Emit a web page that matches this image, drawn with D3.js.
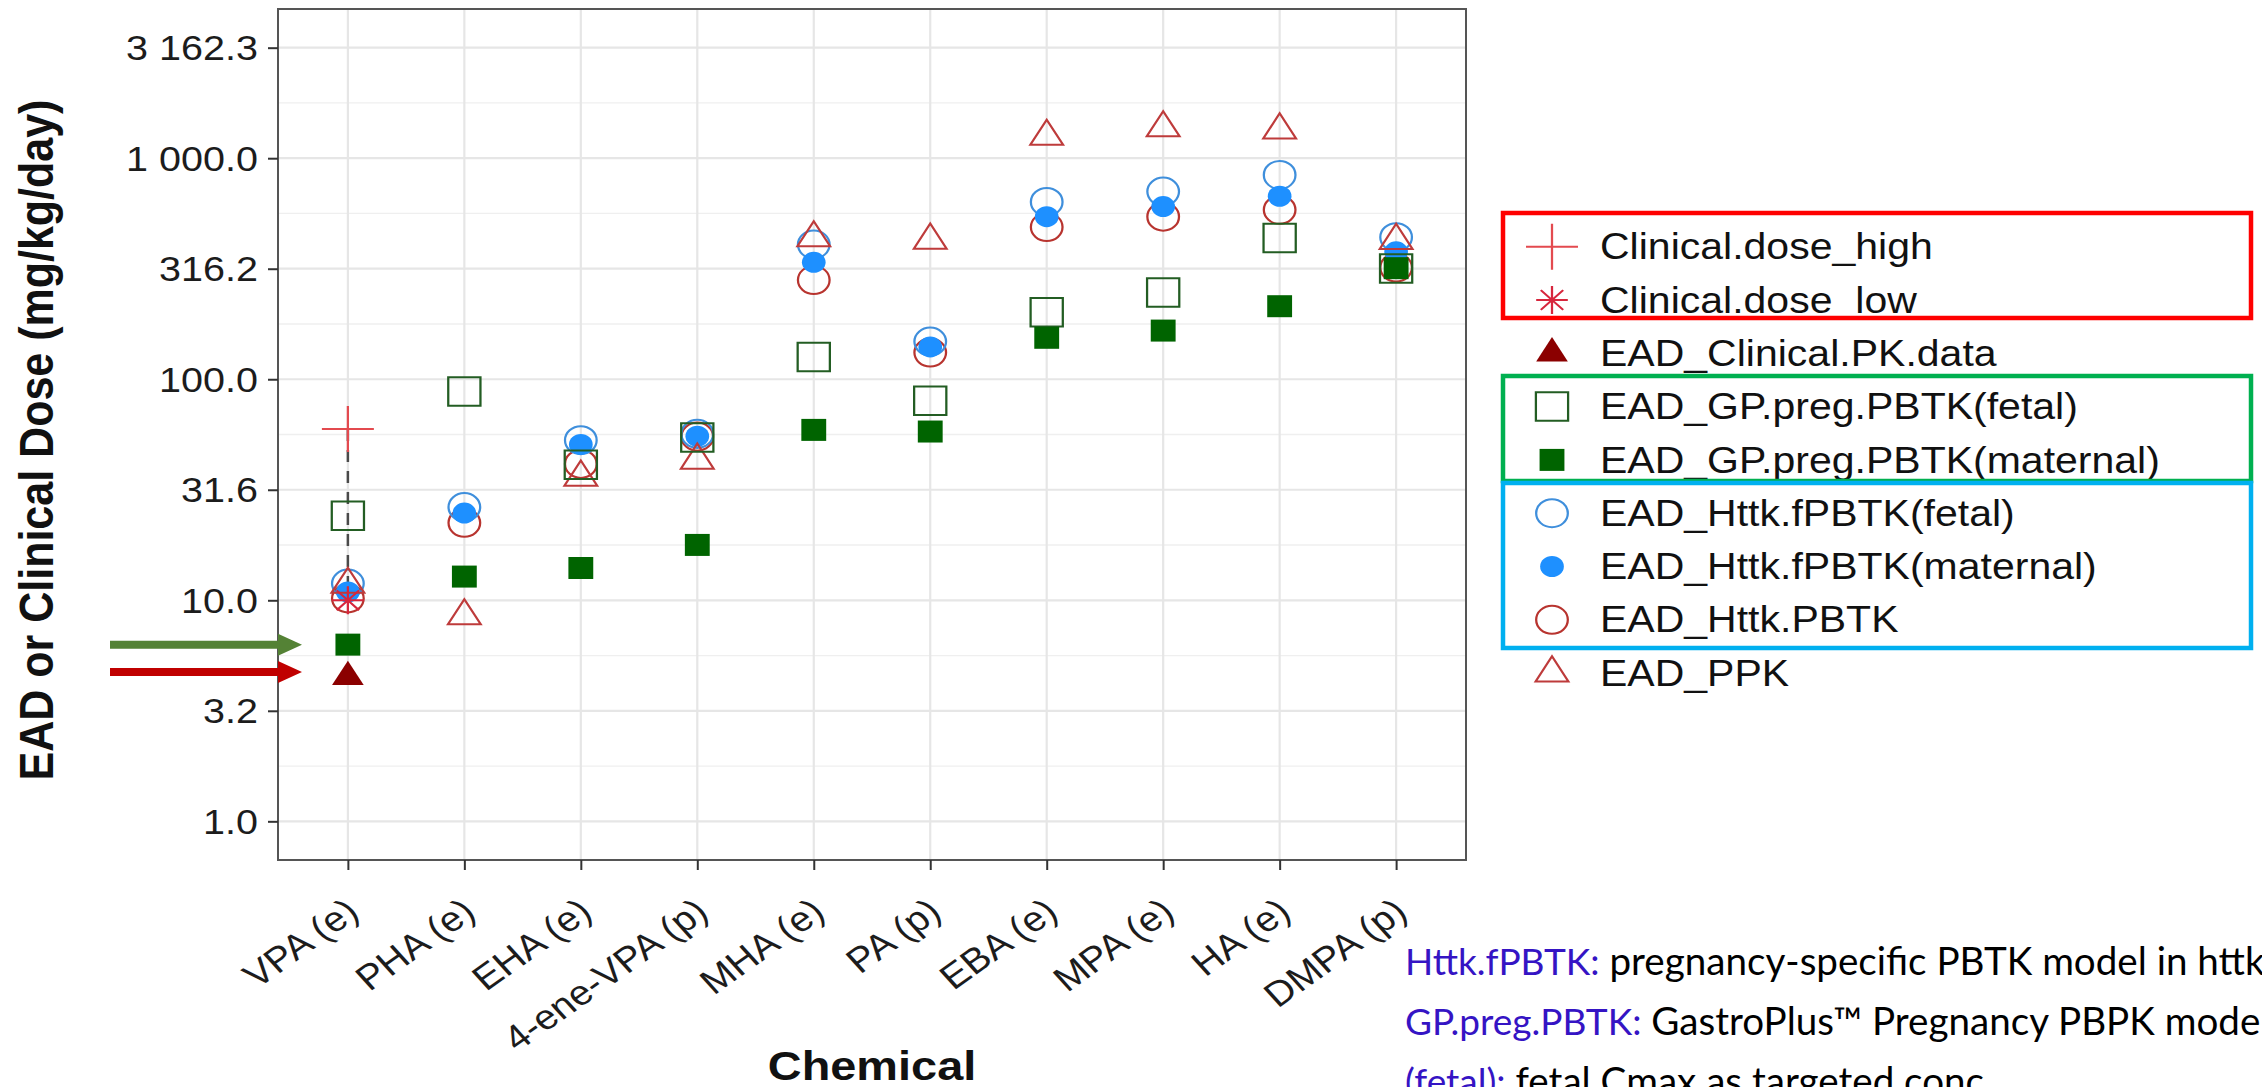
<!DOCTYPE html>
<html>
<head>
<meta charset="utf-8">
<script src="https://cdn.jsdelivr.net/npm/d3@7"></script>
<style>
body { margin: 0; background: #fff; }
svg { display: block; }
</style>
</head>
<body>
<svg id="chart"></svg>
<script>
// EAD vs clinical dose per chemical, log y axis

var chemicals = ["VPA (e)", "PHA (e)", "EHA (e)", "4-ene-VPA (p)", "MHA (e)", "PA (p)", "EBA (e)", "MPA (e)", "HA (e)", "DMPA (p)"];

var clinicalHigh = [59.6, null, null, null, null, null, null, null, null, null];
var clinicalLow  = [10.0, null, null, null, null, null, null, null, null, null];
var clinicalPK   = [4.5, null, null, null, null, null, null, null, null, null];
var gpFetal      = [24.1, 88, 41, 54.5, 126, 80, 201, 247, 436, 317];
var gpMaternal   = [6.3, 12.8, 14.0, 17.8, 59, 58, 154, 166, 214, 318];
var httkFetal    = [11.9, 26.4, 53, 56.6, 407, 148, 634, 706, 840, 439];
var httkMaternal = [10.9, 24.8, 50.7, 55.2, 338, 140, 544, 604, 673, 377];
var httkPBTK     = [10.2, 22.4, 41.4, 55, 281, 132, 488, 544, 584, 320];
var ppk          = [11.8, 8.5, 36, 43, 436, 425, 1254, 1371, 1340, 424];

var yTicks = [1, 3.1623, 10, 31.623, 100, 316.23, 1000, 3162.3];
var yTickLabels = ["1.0", "3.2", "10.0", "31.6", "100.0", "316.2", "1 000.0", "3 162.3"];

var legendLabels = ["Clinical.dose_high", "Clinical.dose_low", "EAD_Clinical.PK.data", "EAD_GP.preg.PBTK(fetal)", "EAD_GP.preg.PBTK(maternal)", "EAD_Httk.fPBTK(fetal)", "EAD_Httk.fPBTK(maternal)", "EAD_Httk.PBTK", "EAD_PPK"];

var noteKeys = ["Httk.fPBTK:", "GP.preg.PBTK:", "(fetal):"];
var noteTexts = [" pregnancy-specific PBTK model in httk", " GastroPlus\u2122 Pregnancy PBPK model", " fetal Cmax as targeted conc."];

var cfg = {
	width: 2262,
	height: 1087,
	left: 278,
	right: 1466,
	top: 9,
	bottom: 860,
	stretch: 1.13,
	font: "'Liberation Sans', Arial, sans-serif"
};

// custom stroke symbols (R pch 3 and 8)
var symbolCross = {
	draw: function(ctx, size) {
		var r = Math.sqrt(size) / 2;
		ctx.moveTo(-r, 0); ctx.lineTo(r, 0);
		ctx.moveTo(0, -r); ctx.lineTo(0, r);
	}
};
var symbolStar = {
	draw: function(ctx, size) {
		var r = Math.sqrt(size) / 2, d = r * Math.SQRT1_2;
		ctx.moveTo(-r, 0); ctx.lineTo(r, 0);
		ctx.moveTo(0, -r); ctx.lineTo(0, r);
		ctx.moveTo(-d, -d); ctx.lineTo(d, d);
		ctx.moveTo(-d, d); ctx.lineTo(d, -d);
	}
};

// draw order: first is at the bottom
var series = [
	{ name: "EAD_Httk.PBTK", values: httkPBTK, type: d3.symbolCircle, size: 616, fill: "none", stroke: "#b8342f", sw: 2 },
	{ name: "EAD_Httk.fPBTK(fetal)", values: httkFetal, type: d3.symbolCircle, size: 616, fill: "none", stroke: "#3f8fdc", sw: 2 },
	{ name: "EAD_Httk.fPBTK(maternal)", values: httkMaternal, type: d3.symbolCircle, size: 346, fill: "#1e90ff", stroke: "none", sw: 0 },
	{ name: "EAD_PPK", values: ppk, type: d3.symbolTriangle, size: 364, fill: "none", stroke: "#be3b3b", sw: 2 },
	{ name: "EAD_GP.preg.PBTK(fetal)", values: gpFetal, type: d3.symbolSquare, size: 812, fill: "none", stroke: "#235d23", sw: 2 },
	{ name: "EAD_GP.preg.PBTK(maternal)", values: gpMaternal, type: d3.symbolSquare, size: 484, fill: "#006400", stroke: "none", sw: 0 },
	{ name: "EAD_Clinical.PK.data", values: clinicalPK, type: d3.symbolTriangle, size: 340, fill: "#8b0000", stroke: "none", sw: 0 },
	{ name: "Clinical.dose_low", values: clinicalLow, type: symbolStar, size: 784, fill: "none", stroke: "#d7263d", sw: 2 },
	{ name: "Clinical.dose_high", values: clinicalHigh, type: symbolCross, size: 2116, fill: "none", stroke: "#e34a4f", sw: 2 }
];

var svg = d3.select("#chart")
	.attr("width", cfg.width)
	.attr("height", cfg.height)
	.style("background", "#fff");

var x = d3.scalePoint()
	.domain(chemicals)
	.range([cfg.left, cfg.right])
	.padding(0.6);

var y = d3.scaleLog()
	.domain([Math.pow(10, -0.175), Math.pow(10, 3.675)])
	.range([cfg.bottom, cfg.top]);

function stretch(px, py) {
	return "translate(" + px + "," + py + ") scale(" + cfg.stretch + ",1)";
}

// grid
var minor = d3.pairs(yTicks).map(function(p) { return Math.sqrt(p[0] * p[1]); });
var grid = svg.append("g");

grid.selectAll(".minor")
	.data(minor)
	.enter().append("line")
	.attr("x1", cfg.left).attr("x2", cfg.right)
	.attr("y1", function(d) { return y(d); })
	.attr("y2", function(d) { return y(d); })
	.attr("stroke", "#efefef")
	.attr("stroke-width", 1.3);

grid.selectAll(".majory")
	.data(yTicks)
	.enter().append("line")
	.attr("x1", cfg.left).attr("x2", cfg.right)
	.attr("y1", function(d) { return y(d); })
	.attr("y2", function(d) { return y(d); })
	.attr("stroke", "#e6e6e6")
	.attr("stroke-width", 2.2);

grid.selectAll(".majorx")
	.data(chemicals)
	.enter().append("line")
	.attr("y1", cfg.top).attr("y2", cfg.bottom)
	.attr("x1", function(d) { return x(d); })
	.attr("x2", function(d) { return x(d); })
	.attr("stroke", "#e6e6e6")
	.attr("stroke-width", 2.2);

// clinical dose range (low to high)
var ranges = chemicals.map(function(c, i) {
	return { c: c, lo: clinicalLow[i], hi: clinicalHigh[i] };
}).filter(function(d) { return d.lo != null && d.hi != null; });

svg.append("g").selectAll("line")
	.data(ranges)
	.enter().append("line")
	.attr("x1", function(d) { return x(d.c); })
	.attr("x2", function(d) { return x(d.c); })
	.attr("y1", function(d) { return y(d.hi); })
	.attr("y2", function(d) { return y(d.lo); })
	.attr("stroke", "#4a4a4a")
	.attr("stroke-width", 2.5)
	.attr("stroke-dasharray", "12,9");

// points
series.forEach(function(s) {
	var pts = s.values.map(function(v, i) {
		return { c: chemicals[i], v: v };
	}).filter(function(d) { return d.v != null; });

	svg.append("g").selectAll("path")
		.data(pts)
		.enter().append("path")
		.attr("d", d3.symbol().type(s.type).size(s.size))
		.attr("transform", function(d) { return stretch(x(d.c), y(d.v)); })
		.attr("fill", s.fill)
		.attr("stroke", s.stroke)
		.attr("stroke-width", s.sw);
});

// panel border
svg.append("rect")
	.attr("x", cfg.left).attr("y", cfg.top)
	.attr("width", cfg.right - cfg.left)
	.attr("height", cfg.bottom - cfg.top)
	.attr("fill", "none")
	.attr("stroke", "#555")
	.attr("stroke-width", 2);

// axes
var yAxis = svg.append("g")
	.attr("transform", "translate(" + cfg.left + ",0)")
	.call(d3.axisLeft(y).tickValues(yTicks)
		.tickFormat(function(d, i) { return yTickLabels[i]; })
		.tickSize(10).tickSizeOuter(0));

var xAxis = svg.append("g")
	.attr("transform", "translate(0," + cfg.bottom + ")")
	.call(d3.axisBottom(x).tickSize(10).tickSizeOuter(0));

[yAxis, xAxis].forEach(function(a) {
	a.select(".domain").remove();
	a.attr("font-family", cfg.font).attr("font-size", 35);
	a.selectAll(".tick line").attr("stroke", "#333").attr("stroke-width", 2);
	a.selectAll(".tick text").attr("fill", "#1c1c1c");
});

yAxis.selectAll(".tick text")
	.attr("x", null).attr("dy", null)
	.attr("dominant-baseline", "central")
	.attr("transform", stretch(-20, 0));

xAxis.selectAll(".tick text")
	.attr("y", null).attr("dy", null)
	.attr("text-anchor", "end")
	.attr("dominant-baseline", "central")
	.attr("transform", stretch(4, 46) + " rotate(-38.7)");

// axis titles
svg.append("text")
	.attr("transform", stretch(53, 440) + " rotate(-90)")
	.attr("text-anchor", "middle")
	.attr("font-family", cfg.font)
	.attr("font-weight", "bold")
	.attr("font-size", 43)
	.attr("fill", "#111")
	.text("EAD or Clinical Dose (mg/kg/day)");

svg.append("text")
	.attr("transform", stretch((cfg.left + cfg.right) / 2, 1080))
	.attr("text-anchor", "middle")
	.attr("font-family", cfg.font)
	.attr("font-weight", "bold")
	.attr("font-size", 41.5)
	.attr("fill", "#111")
	.text("Chemical");

// legend
var legend = svg.append("g");
var legendRow = 53.3;

var item = legend.selectAll("g")
	.data(legendLabels)
	.enter().append("g")
	.attr("transform", function(d, i) {
		return "translate(0," + (246.7 + i * legendRow) + ")";
	});

item.append("path")
	.attr("d", function(d) {
		var s = series.filter(function(a) { return a.name === d; })[0];
		return d3.symbol().type(s.type).size(s.size)();
	})
	.attr("transform", stretch(1552, 0))
	.each(function(d) {
		var s = series.filter(function(a) { return a.name === d; })[0];
		d3.select(this).attr("fill", s.fill).attr("stroke", s.stroke).attr("stroke-width", s.sw);
	});

item.append("text")
	.attr("transform", stretch(1600, 0))
	.attr("dominant-baseline", "central")
	.attr("font-family", cfg.font)
	.attr("font-size", 36.3)
	.attr("fill", "#111")
	.text(function(d) { return d; });

// coloured frames round legend groups
var frames = [
	{ y0: 213, y1: 318, color: "#ff0000" },
	{ y0: 376, y1: 481, color: "#00b050" },
	{ y0: 483, y1: 648, color: "#00b0f0" }
];
svg.append("g").selectAll("rect")
	.data(frames)
	.enter().append("rect")
	.attr("x", 1503).attr("width", 2251 - 1503)
	.attr("y", function(d) { return d.y0; })
	.attr("height", function(d) { return d.y1 - d.y0; })
	.attr("fill", "none")
	.attr("stroke", function(d) { return d.color; })
	.attr("stroke-width", 4.5);

// arrows pointing at the VPA maternal / clinical PK points
var arrows = [
	{ y: y(gpMaternal[0]), color: "#548235" },
	{ y: y(clinicalPK[0]) - 5, color: "#c00000" }
];
svg.append("g").selectAll("path")
	.data(arrows)
	.enter().append("path")
	.attr("d", function(d) {
		var p = d3.path();
		p.moveTo(110, d.y - 4);
		p.lineTo(278, d.y - 4);
		p.lineTo(278, d.y - 11);
		p.lineTo(302, d.y);
		p.lineTo(278, d.y + 11);
		p.lineTo(278, d.y + 4);
		p.lineTo(110, d.y + 4);
		p.closePath();
		return p.toString();
	})
	.attr("fill", function(d) { return d.color; });

// notes, bottom right (the slide crops them at the edge)
var note = svg.append("g")
	.attr("font-family", "Lato, 'Open Sans', sans-serif")
	.attr("font-size", 37);

noteKeys.forEach(function(k, i) {
	var t = note.append("text")
		.attr("x", 1405)
		.attr("y", 975 + i * 60);
	t.append("tspan").attr("fill", "#3514c4").text(k);
	t.append("tspan").attr("fill", "#000").attr("font-size", 38.6).text(noteTexts[i]);
});
</script>
</body>
</html>
